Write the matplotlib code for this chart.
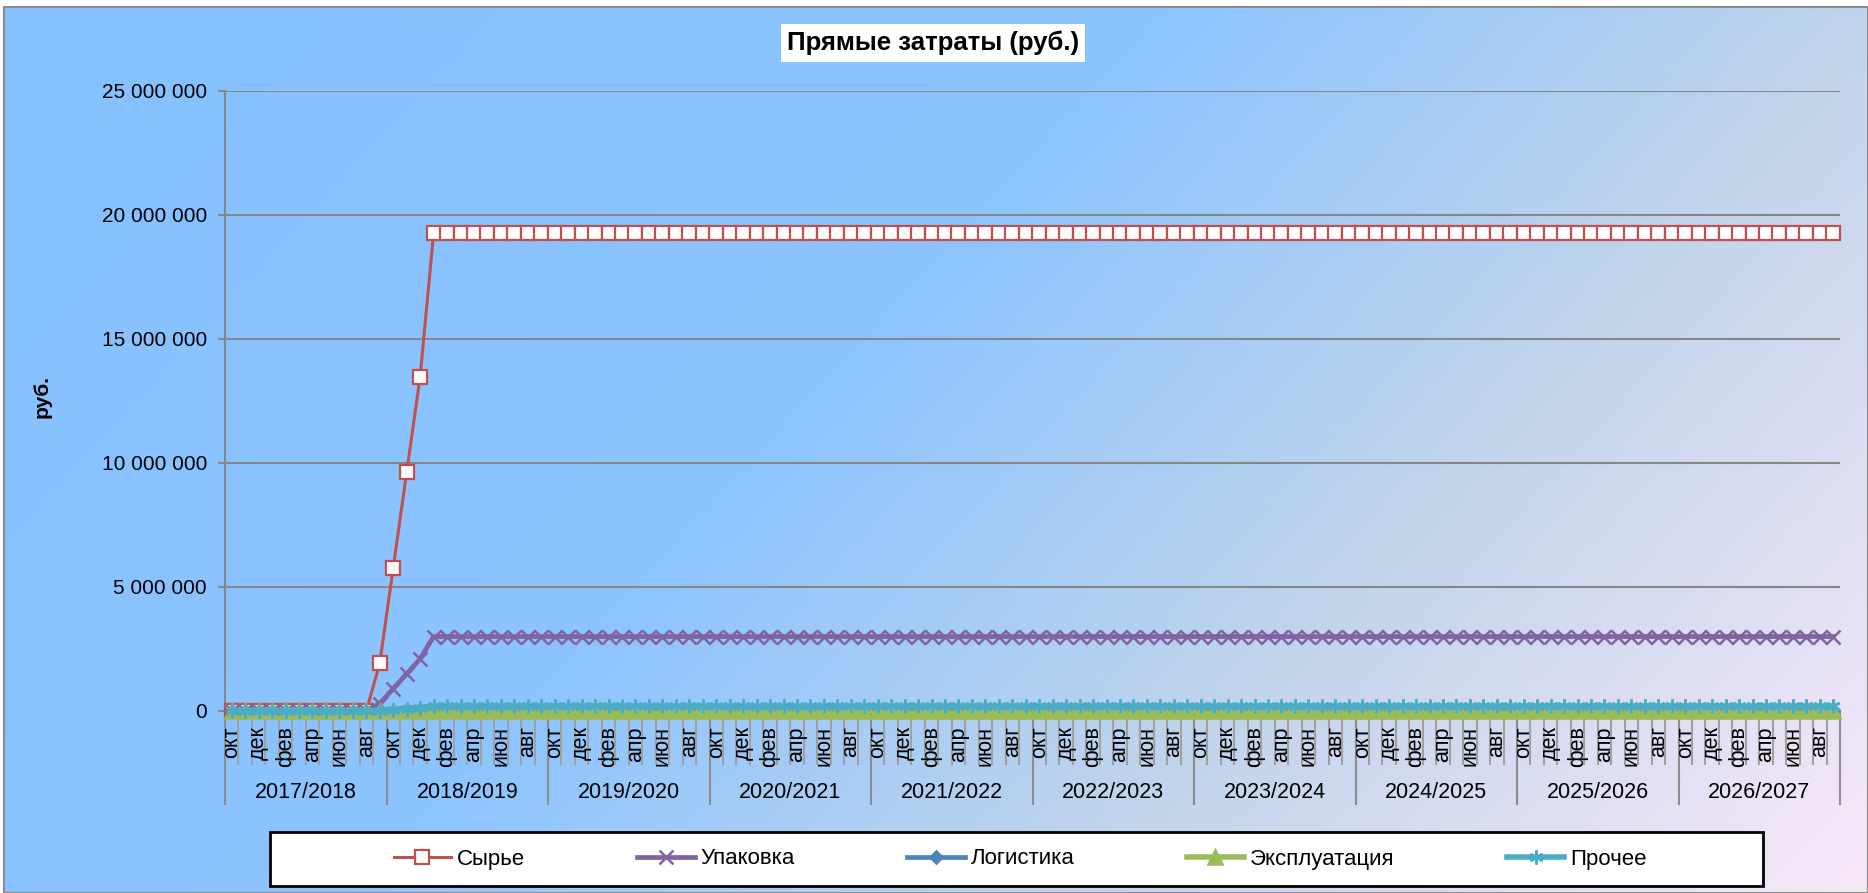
import numpy as np
import matplotlib
matplotlib.use("Agg")
import matplotlib.pyplot as plt
from matplotlib.patches import Rectangle
from matplotlib.ticker import MultipleLocator, FuncFormatter, NullFormatter

plt.rcParams['font.family'] = ['Liberation Sans', 'DejaVu Sans']

# categories: fiscal years Oct..Sep, every second month is labelled
months = ['окт', 'ноя', 'дек', 'янв', 'фев', 'мар', 'апр', 'май', 'июн', 'июл', 'авг', 'сен']
years = ['2017/2018', '2018/2019', '2019/2020', '2020/2021', '2021/2022',
         '2022/2023', '2023/2024', '2024/2025', '2025/2026', '2026/2027']

# series values (руб.), 120 months
syrye = [0] * 11 + [1925000, 5775000, 9625000, 13475000] + [19250000] * 105
upakovka = [0] * 11 + [300000, 900000, 1500000, 2100000] + [3000000] * 105
logistika = [0] * 11 + [5000, 15000, 25000, 35000] + [50000] * 105
ekspl = [0] * 11 + [2000, 6000, 10000, 14000] + [20000] * 105
prochee = [0] * 11 + [20000, 60000, 100000, 140000] + [200000] * 105

series = [
    ('Сырье', syrye, '#C0504D', 's', 2.2, 9.5),
    ('Упаковка', upakovka, '#8064A2', 'x', 3.4, 9.5),
    ('Логистика', logistika, '#4F81BD', 'D', 3.4, 6),
    ('Эксплуатация', ekspl, '#9BBB59', '^', 4.0, 10.5),
    ('Прочее', prochee, '#4BACC6', (6, 2, 0), 4.0, 10),
]

W, H = 1868, 893
fig = plt.figure(figsize=(W / 100, H / 100), dpi=100)
fig.patch.set_facecolor('white')

# background gradient (chart area)
bg = fig.add_axes([4 / W, 0, 1 - 4 / W, 1 - 7 / H], zorder=-10)
gx, gy = np.meshgrid(np.linspace(0, 1, 400), np.linspace(0, 1, 200))
t = gx * 0.8 + gy * 0.35
stops_t = [0.0, 0.5, 0.8, 1.15]
stops_c = np.array([[133, 193, 255], [140, 196, 255], [192, 212, 236], [248, 232, 248]]) / 255
img = np.zeros(gx.shape + (3,))
for k in range(3):
    img[..., k] = np.interp(t, stops_t, stops_c[:, k])
bg.imshow(img, aspect='auto', extent=[0, 1, 0, 1], origin='upper')
bg.set_xticks([])
bg.set_yticks([])
for s in bg.spines.values():
    s.set_color('#8c8c8c')
    s.set_linewidth(1.5)

ax = fig.add_axes([225 / W, 182 / H, (1840 - 225) / W, (711 - 90.5) / H])
ax.set_facecolor('none')

n = len(syrye)
x = np.arange(n) + 0.5
for name, vals, col, mk, lw, ms in series:
    face = 'white' if mk == 's' else col
    ax.plot(x, vals, color=col, lw=lw, marker=mk, ms=ms, mfc=face, mec=col,
            mew=1.6 if mk == 's' else 1.8, label=name, zorder=3, clip_on=False)

ax.set_xlim(0, n)
ax.set_ylim(0, 25000000)
ax.yaxis.set_major_locator(MultipleLocator(5000000))
ax.yaxis.set_major_formatter(FuncFormatter(lambda v, p: f"{v:,.0f}".replace(",", " ")))
ax.grid(axis='y', color='#868686', lw=1.5, zorder=1)
ax.set_axisbelow(True)
for s in ['top', 'right']:
    ax.spines[s].set_visible(False)
for s in ['left', 'bottom']:
    ax.spines[s].set_color('#868686')
    ax.spines[s].set_linewidth(1.5)
ax.tick_params(axis='y', colors='#868686', labelcolor='black', labelsize=15,
               length=5, width=1.5, pad=8)

ax.xaxis.set_major_locator(MultipleLocator(12))
ax.xaxis.set_minor_locator(MultipleLocator(1))
ax.xaxis.set_major_formatter(NullFormatter())
ax.tick_params(axis='x', which='major', length=67.7, width=1.5, colors='#8c8c8c')
ax.tick_params(axis='x', which='minor', length=38.9, width=1.5, colors='#a0a0a0')

tr = ax.get_xaxis_transform()
for i in range(n):
    if i % 2 == 0:
        ax.annotate(months[i % 12], xy=(i + 0.5, 0), xycoords=tr, xytext=(0, -11),
                    textcoords='offset points', rotation=90, ha='center', va='top',
                    fontsize=15.5, annotation_clip=False)
for k, yl in enumerate(years):
    ax.annotate(yl, xy=(12 * k + 6, 0), xycoords=tr, xytext=(0, -59),
                textcoords='offset points', ha='center', va='center', fontsize=15.5,
                annotation_clip=False)

fig.text(42 / W, 1 - 396 / H, 'руб.', rotation=90, fontsize=15, fontweight='bold',
         ha='center', va='center')
fig.text(933 / W, 1 - 43 / H, 'Прямые затраты (руб.)', fontsize=18.5, fontweight='bold',
         ha='center', va='center',
         bbox=dict(facecolor='white', edgecolor='none', boxstyle='square,pad=0.25'))

# legend box
fig.patches.append(Rectangle((270 / W, 1 - 886 / H), (1763 - 270) / W, 54 / H,
                             transform=fig.transFigure, facecolor='white',
                             edgecolor='black', lw=2, zorder=5))
leg = fig.legend(loc='center', bbox_to_anchor=(1020 / W, 1 - 859 / H), ncol=5,
                 frameon=False, fontsize=16, columnspacing=5.05, handlelength=2.6,
                 handletextpad=0.25, numpoints=1)
leg.set_zorder(6)

fig.savefig('out.png', dpi=100, facecolor=fig.get_facecolor())
